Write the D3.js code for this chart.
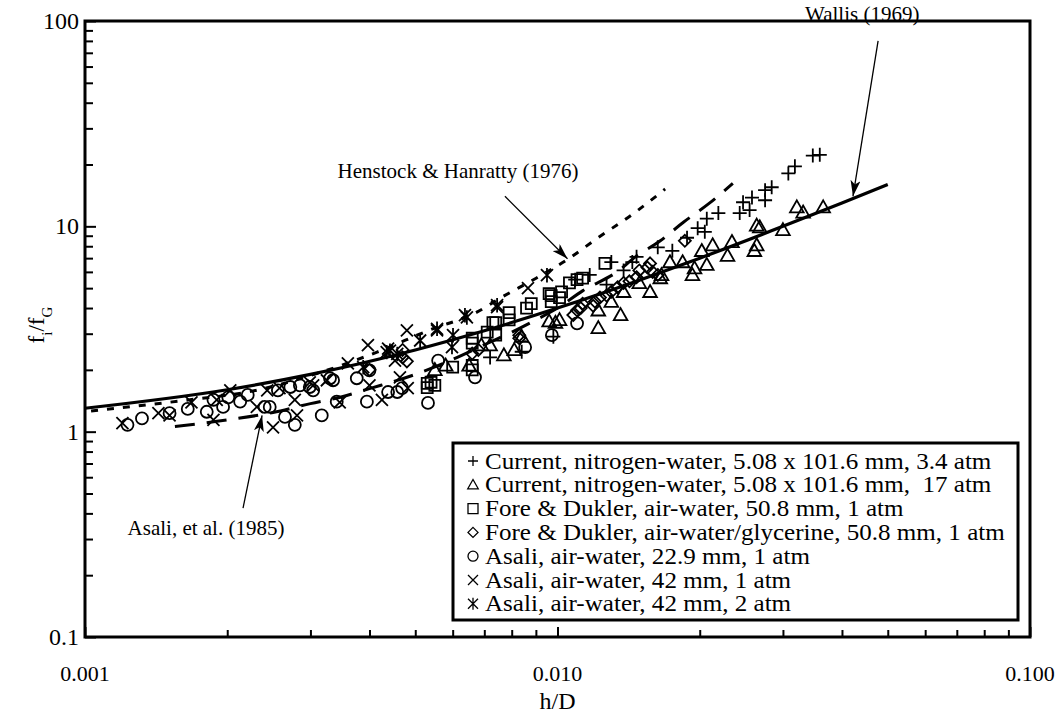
<!DOCTYPE html>
<html>
<head>
<meta charset="utf-8">
<script src="https://cdn.jsdelivr.net/npm/d3@7"></script>
<style>
  body { margin: 0; background: #fff; }
  text { font-family: "Liberation Serif", "Times New Roman", serif; fill: #000; }
</style>
</head>
<body>
<div id="chart"></div>
<script>
// ---- data: [h/D, fi/fG] ----
var currentLow = [[0.0072,2.3],[0.0084,2.45],[0.0098,2.9],[0.0109,5.5],[0.0117,5.8],[0.0127,5.2],
  [0.0130,6.7],[0.0138,6.1],[0.0144,6.7],[0.0147,7.1],[0.0163,7.9],[0.0175,7.6],[0.0188,8.8],
  [0.0198,9.8],[0.0205,9.4],[0.0207,10.9],[0.0219,11.6],[0.0243,11.6],[0.0247,13.1],[0.0255,12.0],
  [0.0258,13.8],[0.0275,15.0],[0.0275,13.4],[0.0284,15.5],[0.0308,18.1],[0.0318,19.6],[0.0347,22.1],[0.0359,22.3]];
var currentHigh = [[0.0365,12.4],[0.0331,11.7],[0.0321,12.4],[0.0300,9.6],[0.0268,9.9],[0.0264,10.1],
  [0.0264,8.1],[0.0261,7.6],[0.0234,8.4],[0.0229,7.2],[0.0213,8.1],[0.0207,6.5],[0.0202,7.6],[0.0195,6.25],
  [0.0193,5.8],[0.0184,6.7],[0.0173,6.7],[0.0166,5.8],[0.0165,5.6],[0.0157,4.8],[0.0149,5.3],[0.0138,4.8],
  [0.0136,3.7],[0.0130,4.3],[0.0122,3.2],[0.0122,3.9],[0.0101,3.5],[0.0099,3.4],[0.0096,3.45],[0.0084,2.9],
  [0.0081,2.5],[0.0077,2.36],[0.0072,2.64],[0.0069,2.64],[0.0065,2.1],[0.0055,2.0],[0.0058,2.1]];
var foreWater = [[0.0126,6.6],[0.0113,5.6],[0.0110,5.5],[0.0106,5.3],[0.0102,4.8],[0.0097,4.6],[0.0097,4.3],
  [0.0101,4.5],[0.0096,4.7],[0.0088,4.2],[0.0086,4.0],[0.0079,3.8],[0.0079,3.5],[0.0074,3.4],[0.0073,3.4],
  [0.0071,3.05],[0.0074,2.95],[0.0066,2.85],[0.0066,2.7],[0.0060,2.06],[0.0066,2.1],[0.0066,2.0],
  [0.0054,1.74],[0.0053,1.72],[0.0055,1.68],[0.0053,1.64]];
var foreGlycerine = [[0.0108,3.7],[0.0110,3.9],[0.0112,4.0],[0.0113,4.2],[0.0119,4.1],[0.0120,4.3],
  [0.0123,4.5],[0.0127,4.6],[0.0130,4.8],[0.0134,5.05],[0.0138,5.3],[0.0142,5.4],[0.0147,5.65],
  [0.0149,6.1],[0.0155,6.3],[0.0157,6.6],[0.0159,6.0],[0.0163,5.8],[0.0186,8.5],[0.0047,2.5],
  [0.0047,2.3],[0.0066,2.4],[0.0068,2.5],[0.0083,2.95],[0.0083,2.85],[0.0048,2.2],[0.0040,2.0]];
var asali229 = [[0.00123,1.08],[0.00132,1.16],[0.00151,1.23],[0.00165,1.29],[0.00181,1.25],[0.00187,1.43],
  [0.00196,1.32],[0.00201,1.47],[0.00213,1.40],[0.00221,1.51],[0.00240,1.32],[0.00246,1.32],[0.00256,1.59],
  [0.00265,1.18],[0.00278,1.08],[0.00272,1.65],[0.00285,1.68],[0.00299,1.65],[0.00304,1.59],[0.00317,1.20],
  [0.00330,1.82],[0.00341,1.40],[0.00335,1.78],[0.00376,1.82],[0.00395,1.40],[0.00400,1.99],[0.00438,1.56],
  [0.00458,1.56],[0.00469,1.63],[0.00532,1.38],[0.00559,2.22],[0.00669,1.84],[0.00854,2.58],[0.00973,2.95],[0.0110,3.37]];
var asali42a = [[0.00120,1.10],[0.00143,1.23],[0.00151,1.20],[0.00168,1.39],[0.00187,1.14],[0.00190,1.43],
  [0.00203,1.59],[0.00231,1.32],[0.00243,1.59],[0.00250,1.05],[0.00258,1.63],[0.00278,1.43],[0.00281,1.20],
  [0.00304,1.68],[0.00325,1.78],[0.00299,1.74],[0.00346,1.39],[0.00360,2.15],[0.00397,2.64],[0.00425,1.43],
  [0.00438,2.54],[0.00453,2.22],[0.00464,1.84],[0.00480,3.11],[0.00482,1.63],[0.00556,3.11],[0.00745,4.04],
  [0.00866,5.0],[0.00400,1.68]];
var asali42b = [[0.00388,2.06],[0.00435,2.44],[0.00442,2.48],[0.00458,2.39],[0.00512,2.78],[0.00556,3.17],
  [0.00598,2.58],[0.00601,2.95],[0.00637,3.69],[0.00643,3.6],[0.00745,4.13],[0.0095,5.78]];

// correlation curves
var wallis = [[0.001,1.3],[0.002,1.6],[0.003,1.9],[0.005,2.5],[0.007,3.1],[0.01,4.0],[0.015,5.5],
  [0.02,7.0],[0.03,10.0],[0.04,13.0],[0.05,16.0]];
var henstock = [[0.00103,1.26],[0.00175,1.45],[0.00218,1.55],[0.00314,1.94],[0.00415,2.44],[0.00537,3.13],
  [0.00675,3.82],[0.00755,4.46],[0.00901,5.59],[0.0105,6.9],[0.0121,8.7],[0.0146,11.7],[0.0169,15.2]];
var asaliCurve = [[0.00155,1.06],[0.002,1.14],[0.0025,1.24],[0.003,1.37],[0.0035,1.48],[0.004,1.62],
  [0.005,1.9],[0.006,2.25],[0.007,2.65],[0.008,3.05],[0.009,3.5],[0.010,4.0],[0.0113,4.85],[0.0135,6.1],
  [0.0145,7.0],[0.0165,8.5],[0.0185,10.5],[0.021,13.0],[0.0235,16.2]];

var xTicks = [0.001, 0.01, 0.1], xTickLabels = ["0.001", "0.010", "0.100"];
var yTicks = [0.1, 1, 10, 100], yTickLabels = ["0.1", "1", "10", "100"];

var legendLabels = ["Current, nitrogen-water, 5.08 x 101.6 mm, 3.4 atm",
  "Current, nitrogen-water, 5.08 x 101.6 mm,  17 atm",
  "Fore & Dukler, air-water, 50.8 mm, 1 atm",
  "Fore & Dukler, air-water/glycerine, 50.8 mm, 1 atm",
  "Asali, air-water, 22.9 mm, 1 atm",
  "Asali, air-water, 42 mm, 1 atm",
  "Asali, air-water, 42 mm, 2 atm"];
var legendShapes = ["plus", "triangle", "square", "diamond", "circle", "cross", "asterisk"];

// ---- layout ----
var width = 1061, height = 715;
var margin = { top: 21, right: 31, bottom: 78, left: 85 };

var svg = d3.select("#chart").append("svg")
  .attr("width", width).attr("height", height);

var x = d3.scaleLog().domain([0.001, 0.1]).range([margin.left, width - margin.right]);
var y = d3.scaleLog().domain([0.1, 100]).range([height - margin.bottom, margin.top]);

// arrow head
svg.append("defs").append("marker")
  .attr("id", "arrow").attr("viewBox", "0 0 16 10")
  .attr("refX", 16).attr("refY", 5)
  .attr("markerWidth", 16).attr("markerHeight", 10)
  .attr("markerUnits", "userSpaceOnUse")
  .attr("orient", "auto")
  .append("path").attr("d", "M0,0 L16,5 L0,10 L4,5 Z").attr("fill", "#000");

// minor ticks
var minorX = [], minorY = [];
[0.001, 0.01].forEach(function (d) { for (var k = 2; k < 10; k++) minorX.push(d * k); });
[0.1, 1, 10].forEach(function (d) { for (var k = 2; k < 10; k++) minorY.push(d * k); });

function tickAxis(axis, sel) {
  sel.call(axis);
  sel.select(".domain").remove();
  sel.selectAll("line").attr("stroke", "#000").attr("stroke-width", 2);
}

tickAxis(d3.axisBottom(x).tickValues(minorX).tickSize(-7).tickFormat(""),
  svg.append("g").attr("transform", "translate(0," + y(0.1) + ")"));
tickAxis(d3.axisBottom(x).tickValues(xTicks).tickSize(-10).tickFormat(""),
  svg.append("g").attr("transform", "translate(0," + y(0.1) + ")"));
tickAxis(d3.axisLeft(y).tickValues(minorY).tickSize(-8).tickFormat(""),
  svg.append("g").attr("transform", "translate(" + x(0.001) + ",0)"));
tickAxis(d3.axisLeft(y).tickValues(yTicks).tickSize(-11).tickFormat(""),
  svg.append("g").attr("transform", "translate(" + x(0.001) + ",0)"));

// tick labels
svg.selectAll(".xl").data(xTicks).enter().append("text")
  .attr("x", function (d) { return x(d); }).attr("y", 681)
  .attr("text-anchor", "middle").style("font-size", "22px")
  .text(function (d, i) { return xTickLabels[i]; });
svg.selectAll(".yl").data(yTicks).enter().append("text")
  .attr("x", 79).attr("y", function (d) { return y(d) + 8; })
  .attr("text-anchor", "end").style("font-size", "24px")
  .text(function (d, i) { return yTickLabels[i]; });

// axis titles
svg.append("text").attr("x", x(0.01)).attr("y", 709)
  .attr("text-anchor", "middle").style("font-size", "24px").text("h/D");
var yt = svg.append("text").attr("transform", "translate(44,325) rotate(-90)")
  .attr("text-anchor", "middle").style("font-size", "23px");
yt.append("tspan").text("f");
yt.append("tspan").attr("baseline-shift", "sub").style("font-size", "15px").text("i");
yt.append("tspan").text("/f");
yt.append("tspan").attr("baseline-shift", "sub").style("font-size", "15px").text("G");

// curves
var line = d3.line().x(function (d) { return x(d[0]); }).y(function (d) { return y(d[1]); })
  .curve(d3.curveMonotoneX);

svg.append("path").datum(henstock).attr("d", line)
  .attr("fill", "none").attr("stroke", "#000").attr("stroke-width", 3)
  .attr("stroke-dasharray", "7,9");
svg.append("path").datum(asaliCurve).attr("d", line)
  .attr("fill", "none").attr("stroke", "#000").attr("stroke-width", 3)
  .attr("stroke-dasharray", "20,12");
svg.append("path").datum(wallis).attr("d", line)
  .attr("fill", "none").attr("stroke", "#000").attr("stroke-width", 3.2);

// marker shapes
function shape(type, s) {
  switch (type) {
    case "plus": return "M" + (-s) + ",0H" + s + "M0," + (-s) + "V" + s;
    case "cross": return "M" + (-s) + "," + (-s) + "L" + s + "," + s + "M" + (-s) + "," + s + "L" + s + "," + (-s);
    case "asterisk": return shape("cross", s) + "M0," + (-s * 1.2) + "V" + (s * 1.2);
    case "triangle": return "M0," + (-s * 1.05) + "L" + (s * 1.05) + "," + (s * 0.8) + "L" + (-s * 1.05) + "," + (s * 0.8) + "Z";
    case "square": return "M" + (-s) + "," + (-s) + "H" + s + "V" + s + "H" + (-s) + "Z";
    case "diamond": return "M0," + (-s) + "L" + s + ",0L0," + s + "L" + (-s) + ",0Z";
    case "circle": return "M" + s + ",0A" + s + "," + s + " 0 1,1 " + (-s) + ",0A" + s + "," + s + " 0 1,1 " + s + ",0Z";
  }
}

var series = [
  { data: currentLow, type: "plus", size: 7 },
  { data: currentHigh, type: "triangle", size: 6.5 },
  { data: foreWater, type: "square", size: 5.5 },
  { data: foreGlycerine, type: "diamond", size: 6 },
  { data: asali229, type: "circle", size: 6 },
  { data: asali42a, type: "cross", size: 6 },
  { data: asali42b, type: "asterisk", size: 6 }
];

series.forEach(function (s) {
  svg.append("g").selectAll("path").data(s.data).enter().append("path")
    .attr("transform", function (d) { return "translate(" + x(d[0]) + "," + y(d[1]) + ")"; })
    .attr("d", shape(s.type, s.size))
    .attr("fill", "none").attr("stroke", "#000").attr("stroke-width", 1.8);
});

// annotations
svg.append("text").attr("x", 458).attr("y", 178).attr("text-anchor", "middle")
  .style("font-size", "21px").text("Henstock & Hanratty (1976)");
svg.append("text").attr("x", 805).attr("y", 21).style("font-size", "21px").text("Wallis (1969)");
svg.append("text").attr("x", 206).attr("y", 535).attr("text-anchor", "middle")
  .style("font-size", "21px").text("Asali, et al. (1985)");

var arrows = [
  [[0.00774, 14.0], [0.0105, 6.95]],
  [[0.0477, 80], [0.0422, 14.0]],
  [[0.00216, 0.424], [0.00237, 1.2]]
];
arrows.forEach(function (a) {
  svg.append("line")
    .attr("x1", x(a[0][0])).attr("y1", y(a[0][1]))
    .attr("x2", x(a[1][0])).attr("y2", y(a[1][1]))
    .attr("stroke", "#000").attr("stroke-width", 1.3)
    .attr("marker-end", "url(#arrow)");
});

// legend
var lg = svg.append("g");
lg.append("rect").attr("x", 453).attr("y", 443).attr("width", 565).attr("height", 177)
  .attr("fill", "#fff").attr("stroke", "#000").attr("stroke-width", 3);
legendLabels.forEach(function (lab, i) {
  var cy = 461 + i * 23.8;
  lg.append("path").attr("transform", "translate(473," + cy + ")")
    .attr("d", shape(legendShapes[i], 5)).attr("fill", "none").attr("stroke", "#000").attr("stroke-width", 1.3);
  lg.append("text").attr("transform", "translate(485," + (cy + 7.5) + ") scale(1.09,1)")
    .style("font-size", "23px").style("white-space", "pre").text(lab);
});

// frame
svg.append("rect").attr("x", x(0.001)).attr("y", y(100))
  .attr("width", x(0.1) - x(0.001)).attr("height", y(0.1) - y(100))
  .attr("fill", "none").attr("stroke", "#000").attr("stroke-width", 3);
</script>
</body>
</html>
